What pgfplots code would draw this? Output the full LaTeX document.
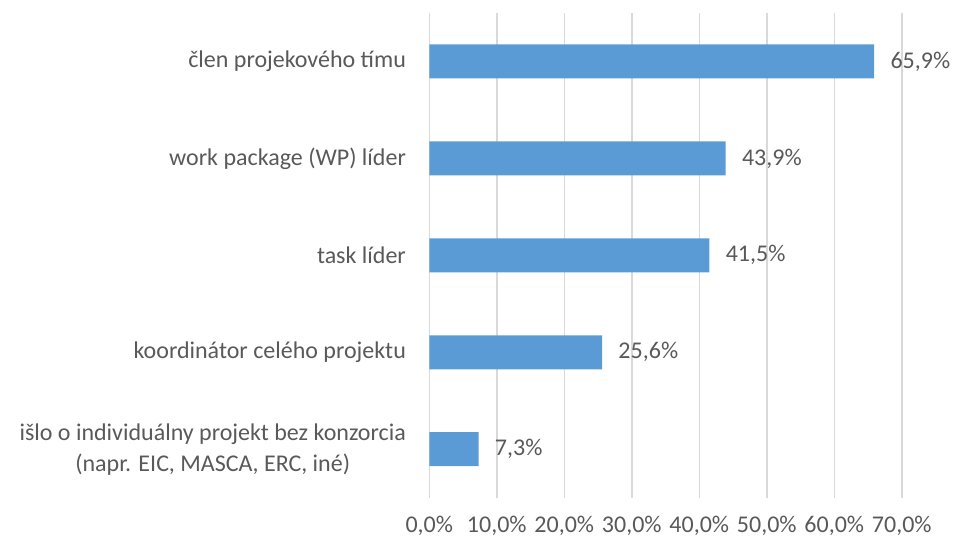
\documentclass[border=0pt]{standalone}
\usepackage{fontspec}
\setmainfont{Carlito}
\usepackage{pgfplots}
\pgfplotsset{compat=1.18}
\definecolor{barblue}{HTML}{5B9BD5}
\definecolor{gridgray}{HTML}{D9D9D9}
\definecolor{textgray}{HTML}{595959}
\begin{document}
\begin{tikzpicture}
\useasboundingbox (0,0) rectangle (476.5pt,-269.5pt);
\begin{axis}[
  at={(214.65pt,-248.85pt)}, anchor=south west,
  scale only axis, width=236.25pt, height=242.35pt,
  xmin=0, xmax=70, ymin=-0.5, ymax=4.5,
  xbar, bar width=17pt,
  xtick={0,10,20,30,40,50,60,70},
  xticklabels={{0,0\%},{10,0\%},{20,0\%},{30,0\%},{40,0\%},{50,0\%},{60,0\%},{70,0\%}},
  ytick={0,1,2,3,4},
  yticklabels={{išlo o individuálny projekt bez konzorcia\\(napr. EIC, MASCA, ERC, iné)},{koordinátor celého projektu},{task líder},{work package (WP) líder},{člen projekového tímu}},
  xmajorgrids, major grid style={gridgray, line width=0.75pt},
  axis line style={draw=none},
  major tick length=0pt,
  tick label style={font=\fontsize{12}{15.5}\selectfont, text=textgray},
  yticklabel style={align=center, anchor=east, inner sep=0pt, xshift=-11.5pt},
  xticklabel style={anchor=base, inner sep=0pt, yshift=-17.6pt},
  nodes near coords, point meta=explicit symbolic,
  every node near coord/.append style={font=\fontsize{12}{15.5}\selectfont, text=textgray, anchor=west, inner sep=0pt, xshift=8pt},
  clip=false
]
\addplot[fill=barblue, draw=none, bar shift=0pt] coordinates {
  (65.9,4) [65,9\%]
  (43.9,3) [43,9\%]
  (41.5,2) [41,5\%]
  (25.6,1) [25,6\%]
  (7.3,0) [7,3\%]
};
\end{axis}
\end{tikzpicture}
\end{document}
